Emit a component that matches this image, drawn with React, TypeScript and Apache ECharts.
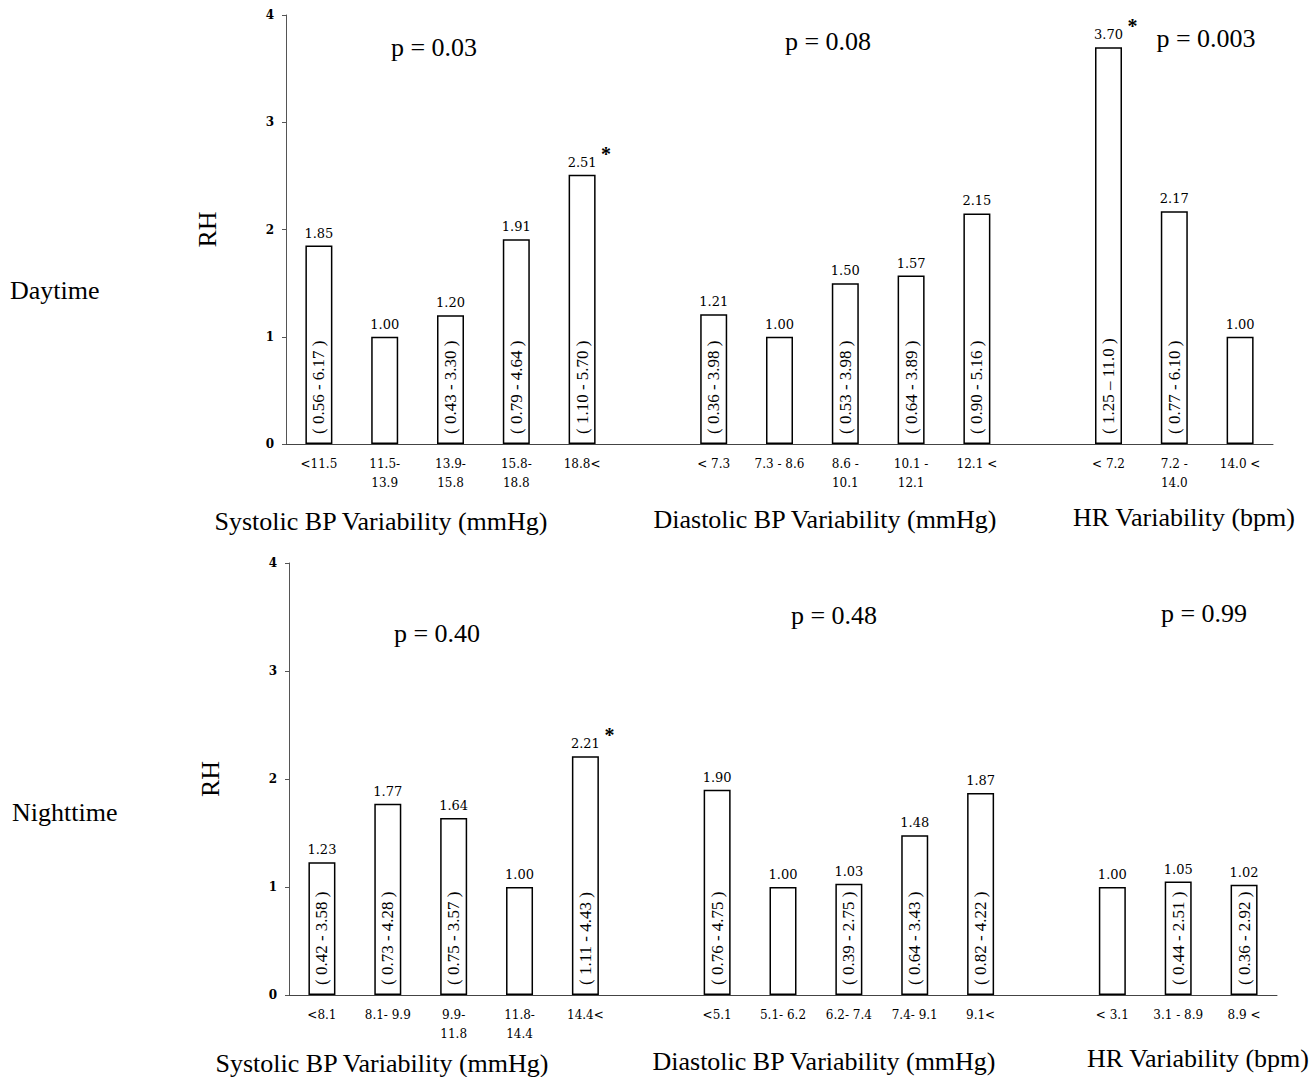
import React, { useEffect, useRef } from 'react';
import * as echarts from 'echarts';

// ---------- data ----------
const rowLabels = ['Daytime', 'Nighttime'];
const groupTitles = ['Systolic BP Variability (mmHg)', 'Diastolic BP Variability (mmHg)', 'HR Variability (bpm)'];
const yAxisName = 'RH';
const yTicks = [0, 1, 2, 3, 4];

const dayPValues = ['p = 0.03', 'p = 0.08', 'p = 0.003'];
const nightPValues = ['p = 0.40', 'p = 0.48', 'p = 0.99'];

const daySysCats = ['<11.5', '11.5-\n13.9', '13.9-\n15.8', '15.8-\n18.8', '18.8<'];
const dayDiaCats = ['< 7.3', '7.3 - 8.6', '8.6 -\n10.1', '10.1 -\n12.1', '12.1 <'];
const dayHrCats = ['< 7.2', '7.2 -\n14.0', '14.0 <'];
const daySysRH = [1.85, 1.0, 1.2, 1.91, 2.51];
const dayDiaRH = [1.21, 1.0, 1.5, 1.57, 2.15];
const dayHrRH = [3.7, 2.17, 1.0];
const daySysCI = ['( 0.56 - 6.17 )', '', '( 0.43 - 3.30 )', '( 0.79 - 4.64 )', '( 1.10 - 5.70 )'];
const dayDiaCI = ['( 0.36 - 3.98 )', '', '( 0.53 - 3.98 )', '( 0.64 - 3.89 )', '( 0.90 - 5.16 )'];
const dayHrCI = ['( 1.25 \u2013 11.0 )', '( 0.77 - 6.10 )', ''];
const daySysSig = [false, false, false, false, true];
const dayDiaSig = [false, false, false, false, false];
const dayHrSig = [true, false, false];

const nightSysCats = ['<8.1', '8.1- 9.9', '9.9-\n11.8', '11.8-\n14.4', '14.4<'];
const nightDiaCats = ['<5.1', '5.1- 6.2', '6.2- 7.4', '7.4- 9.1', '9.1<'];
const nightHrCats = ['< 3.1', '3.1 - 8.9', '8.9 <'];
const nightSysRH = [1.23, 1.77, 1.64, 1.0, 2.21];
const nightDiaRH = [1.9, 1.0, 1.03, 1.48, 1.87];
const nightHrRH = [1.0, 1.05, 1.02];
const nightSysCI = ['( 0.42 - 3.58 )', '( 0.73 - 4.28 )', '( 0.75 - 3.57 )', '', '( 1.11 - 4.43 )'];
const nightDiaCI = ['( 0.76 - 4.75 )', '', '( 0.39 - 2.75 )', '( 0.64 - 3.43 )', '( 0.82 - 4.22 )'];
const nightHrCI = ['', '( 0.44 - 2.51 )', '( 0.36 - 2.92 )'];
const nightSysSig = [false, false, false, false, true];
const nightDiaSig = [false, false, false, false, false];
const nightHrSig = [false, false, false];

// ---------- helpers ----------
function join3<T>(a: T[], b: T[], c: T[], gap: T): T[] {
  return [...a, gap, ...b, gap, ...c];
}

const SERIF = 'Liberation Serif';
const SMALL = 'DejaVu Serif';

const W = 1314;
const H = 1077;

const panels = [
  {
    cats: join3(daySysCats, dayDiaCats, dayHrCats, ''),
    vals: join3<number | string>(daySysRH, dayDiaRH, dayHrRH, '-'),
    ci: join3(daySysCI, dayDiaCI, dayHrCI, ''),
    sig: join3(daySysSig, dayDiaSig, dayHrSig, false),
    grid: { left: 286, top: 15, width: 987, height: 429 },
    pvals: dayPValues,
    pPos: [[434, 47], [828, 41], [1206, 38]],
    titlePos: [[381, 521], [825, 519], [1184, 517]],
    rowPos: [10, 290],
  },
  {
    cats: join3(nightSysCats, nightDiaCats, nightHrCats, ''),
    vals: join3<number | string>(nightSysRH, nightDiaRH, nightHrRH, '-'),
    ci: join3(nightSysCI, nightDiaCI, nightHrCI, ''),
    sig: join3(nightSysSig, nightDiaSig, nightHrSig, false),
    grid: { left: 289, top: 563, width: 988, height: 432 },
    pvals: nightPValues,
    pPos: [[437, 633], [834, 615], [1204, 613]],
    titlePos: [[382, 1063], [824, 1061], [1198, 1058]],
    rowPos: [12, 812],
  },
];

export default function App() {
  const ref = useRef<HTMLDivElement>(null);

  useEffect(() => {
    document.body.style.margin = '0';
    const chart = echarts.init(ref.current as HTMLDivElement, null, { renderer: 'svg' });

    const grids: any[] = [];
    const xAxes: any[] = [];
    const yAxes: any[] = [];
    const series: any[] = [];
    const graphics: any[] = [];

    panels.forEach((p, i) => {
      grids.push({ ...p.grid, containLabel: false });
      xAxes.push({
        type: 'category',
        gridIndex: i,
        data: p.cats,
        axisLine: { show: true, lineStyle: { color: '#444', width: 1 } },
        axisTick: { show: false },
        axisLabel: {
          interval: 0,
          margin: 10,
          fontFamily: SMALL,
          fontSize: 12,
          lineHeight: 19,
          color: '#000',
        },
        splitLine: { show: false },
      });
      yAxes.push({
        type: 'value',
        gridIndex: i,
        min: yTicks[0],
        max: yTicks[yTicks.length - 1],
        interval: 1,
        name: yAxisName,
        nameLocation: 'middle',
        nameRotate: 90,
        nameGap: 66,
        nameTextStyle: { fontFamily: SERIF, fontSize: 26, color: '#000' },
        axisLine: { show: true, lineStyle: { color: '#555', width: 1 } },
        axisTick: { show: true, length: 4, lineStyle: { color: '#555' } },
        axisLabel: {
          margin: 12,
          fontFamily: SMALL,
          fontSize: 12,
          fontWeight: 'bold',
          color: '#000',
        },
        splitLine: { show: false },
      });

      const common = {
        type: 'bar',
        xAxisIndex: i,
        yAxisIndex: i,
        data: p.vals,
        barWidth: 27,
        barGap: '-100%',
        silent: true,
        emphasis: { disabled: true },
      };

      series.push({
        ...common,
        itemStyle: { color: '#fff', borderColor: '#000', borderWidth: 1.5 },
        label: {
          show: true,
          position: 'top',
          distance: 6,
          fontFamily: SMALL,
          fontSize: 13,
          color: '#000',
          formatter: (prm: any) =>
            typeof prm.value === 'number' ? prm.value.toFixed(2) : '',
        },
      });
      series.push({
        ...common,
        itemStyle: { color: 'rgba(0,0,0,0)', borderWidth: 0 },
        label: {
          show: true,
          position: 'insideBottom',
          rotate: 90,
          align: 'left',
          verticalAlign: 'middle',
          distance: 10,
          fontFamily: SERIF,
          fontSize: 17,
          color: '#000',
          formatter: (prm: any) => p.ci[prm.dataIndex] || '',
        },
      });
      series.push({
        ...common,
        itemStyle: { color: 'rgba(0,0,0,0)', borderWidth: 0 },
        label: {
          show: true,
          position: 'top',
          distance: 0,
          offset: [24, -11],
          fontFamily: SERIF,
          fontSize: 20,
          lineHeight: 20,
          fontWeight: 'bold',
          color: '#000',
          formatter: (prm: any) => (p.sig[prm.dataIndex] ? '*' : ''),
        },
      });

      p.pvals.forEach((t, k) => {
        graphics.push({
          type: 'text',
          x: p.pPos[k][0],
          y: p.pPos[k][1],
          style: {
            text: t,
            fontFamily: SERIF,
            fontSize: 26,
            fill: '#000',
            align: 'center',
            verticalAlign: 'middle',
          },
        });
      });
      groupTitles.forEach((t, k) => {
        graphics.push({
          type: 'text',
          x: p.titlePos[k][0],
          y: p.titlePos[k][1],
          style: {
            text: t,
            fontFamily: SERIF,
            fontSize: 26,
            fill: '#000',
            align: 'center',
            verticalAlign: 'middle',
          },
        });
      });
      graphics.push({
        type: 'text',
        x: p.rowPos[0],
        y: p.rowPos[1],
        style: {
          text: rowLabels[i],
          fontFamily: SERIF,
          fontSize: 26,
          fill: '#000',
          align: 'left',
          verticalAlign: 'middle',
        },
      });
    });

    chart.setOption({
      animation: false,
      backgroundColor: '#fff',
      grid: grids,
      xAxis: xAxes,
      yAxis: yAxes,
      series,
      graphic: graphics,
    });

    return () => chart.dispose();
  }, []);

  return (
    <div
      ref={ref}
      style={{ position: 'absolute', left: 0, top: 0, width: W, height: H, background: '#fff' }}
    />
  );
}
